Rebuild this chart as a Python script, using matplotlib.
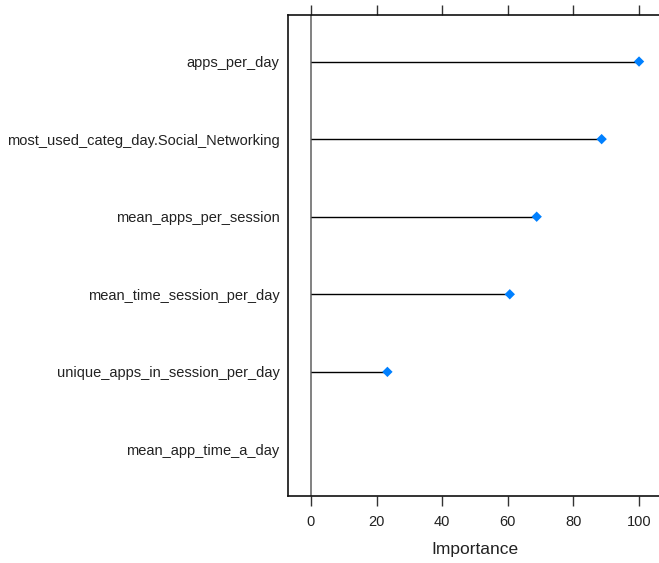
import matplotlib
matplotlib.use("Agg")
import matplotlib.pyplot as plt

plt.rcParams['font.family'] = ['Liberation Sans', 'DejaVu Sans']

features = [
    "apps_per_day",
    "most_used_categ_day.Social_Networking",
    "mean_apps_per_session",
    "mean_time_session_per_day",
    "unique_apps_in_session_per_day",
    "mean_app_time_a_day",
]
importance = [100.0, 88.6, 68.8, 60.6, 23.3, 0.0]
xticks = [0, 20, 40, 60, 80, 100]

fig = plt.figure(figsize=(6.59, 5.63), dpi=100)
ax = fig.add_axes([288 / 659, 1 - 496 / 563, (662 - 288) / 659, 481 / 563])

n = len(features)
ypos = list(range(n, 0, -1))

# zero reference line
ax.axvline(0, color="#777777", lw=1.3, zorder=1)
# lollipop stems and points (zero-importance features get no marker)
ax.hlines(ypos, 0, importance, color="black", lw=1.0, zorder=2)
pts = [(v, y) for v, y in zip(importance, ypos) if v > 0]
ax.scatter([p[0] for p in pts], [p[1] for p in pts], marker="D", s=28,
           color="#0080ff", zorder=3, edgecolors="none")

ax.set_xlim(-7, 107)
ax.set_ylim(0.4, n + 0.6)
ax.set_yticks(ypos)
ax.set_yticklabels(features, fontsize=10.5, color="#222222")
ax.tick_params(axis="y", length=0, pad=6)

ax.set_xticks(xticks)
ax.set_xticklabels([str(t) for t in xticks], fontsize=10.5, color="#222222")
ax.tick_params(axis="x", which="both", direction="out", length=7, width=1,
               color="#333333", top=True, labeltop=False, pad=7)

for s in ax.spines.values():
    s.set_color("#111111")
    s.set_linewidth(1.2)

ax.set_xlabel("Importance", fontsize=12.5, color="#222222", labelpad=9)

fig.savefig("out.png", dpi=100)
